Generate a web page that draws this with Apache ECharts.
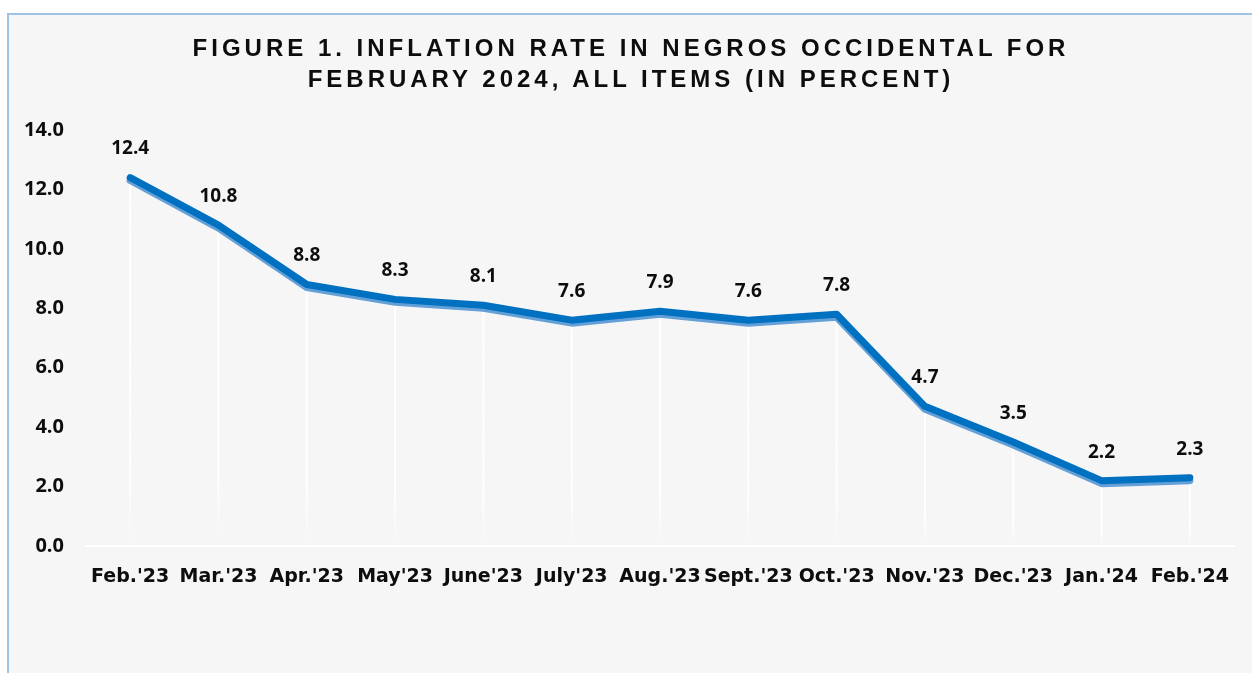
<!DOCTYPE html>
<html>
<head>
<meta charset="utf-8">
<script src="https://cdn.jsdelivr.net/npm/echarts@6/dist/echarts.min.js"></script>
<style>
  html, body { margin: 0; padding: 0; background: #fff; width: 1252px; height: 673px; overflow: hidden; }
  #frame {
    position: absolute; left: 7px; top: 13px; width: 1260px; height: 680px;
    background: #f6f6f6; border-left: 2px solid #9dc3e6; border-top: 2px solid #9dc3e6;
  }
  #chart { position: absolute; left: 0; top: 0; width: 1252px; height: 673px; }
  #title {
    position: absolute; left: 0; top: 32px; width: 1262px; text-align: center;
    font-family: 'Liberation Sans', Arial, sans-serif; font-weight: bold; font-size: 24px;
    line-height: 31px; letter-spacing: 4px; color: #0d0d0d; z-index: 2;
  }
</style>
</head>
<body>
<div id="frame"></div>
<div id="chart"></div>
<div id="title"></div>
<script>
// months shown on the x axis
var months = ["Feb.'23", "Mar.'23", "Apr.'23", "May'23", "June'23", "July'23", "Aug.'23",
              "Sept.'23", "Oct.'23", "Nov.'23", "Dec.'23", "Jan.'24", "Feb.'24"];
// inflation rate, all items, in percent
var rates = [12.4, 10.8, 8.8, 8.3, 8.1, 7.6, 7.9, 7.6, 7.8, 4.7, 3.5, 2.2, 2.3];
var yTicks = { min: 0, max: 14, step: 2 };

var titleLines = ['FIGURE 1. INFLATION RATE IN NEGROS OCCIDENTAL FOR',
                  'FEBRUARY 2024, ALL ITEMS (IN PERCENT)'];

// title is letter-spaced, which the canvas text can't do, so it goes in the page
document.getElementById('title').innerHTML = titleLines.join('<br>');

var chart = echarts.init(document.getElementById('chart'));

var option = {
    backgroundColor: 'transparent',
    animation: false,
    grid: {
        left: 86,
        right: 18,
        top: 130,
        bottom: 127
    },
    xAxis: {
        type: 'category',
        data: months,
        boundaryGap: true,
        axisLine: { lineStyle: { color: '#ffffff', width: 2 } },
        axisTick: { show: false },
        axisLabel: {
            interval: 0,
            margin: 22,
            color: '#0d0d0d',
            fontFamily: 'DejaVu Sans',
            fontWeight: 'bold',
            fontSize: 19
        }
    },
    yAxis: {
        type: 'value',
        min: yTicks.min,
        max: yTicks.max,
        interval: yTicks.step,
        splitLine: { show: false },
        axisLine: { show: false },
        axisTick: { show: false },
        axisLabel: {
            margin: 22,
            color: '#0d0d0d',
            fontFamily: 'Open Sans',
            fontWeight: 'bold',
            fontSize: 20,
            formatter: function (v) { return v.toFixed(1); }
        }
    },
    series: [
        {
            // white drop lines under each point
            type: 'bar',
            data: rates,
            barWidth: 2,
            z: 1,
            silent: true,
            itemStyle: {
                color: new echarts.graphic.LinearGradient(0, 0, 0, 1, [
                    { offset: 0, color: 'rgba(255,255,255,1)' },
                    { offset: 0.8, color: 'rgba(255,255,255,0.9)' },
                    { offset: 1, color: 'rgba(255,255,255,0)' }
                ])
            }
        },
        {
            type: 'line',
            data: rates,
            z: 3,
            symbol: 'circle',
            symbolSize: 2,
            itemStyle: { color: '#0070c0' },
            lineStyle: {
                color: '#0070c0',
                width: 7,
                cap: 'round',
                join: 'round',
                shadowColor: 'rgba(91,155,213,0.95)',
                shadowBlur: 0,
                shadowOffsetY: 3
            },
            label: {
                show: true,
                position: 'top',
                distance: 18,
                color: '#0d0d0d',
                fontFamily: 'Open Sans',
                fontWeight: 'bold',
                fontSize: 19,
                formatter: function (p) { return p.value.toFixed(1); }
            }
        }
    ]
};

chart.setOption(option);
</script>
</body>
</html>
